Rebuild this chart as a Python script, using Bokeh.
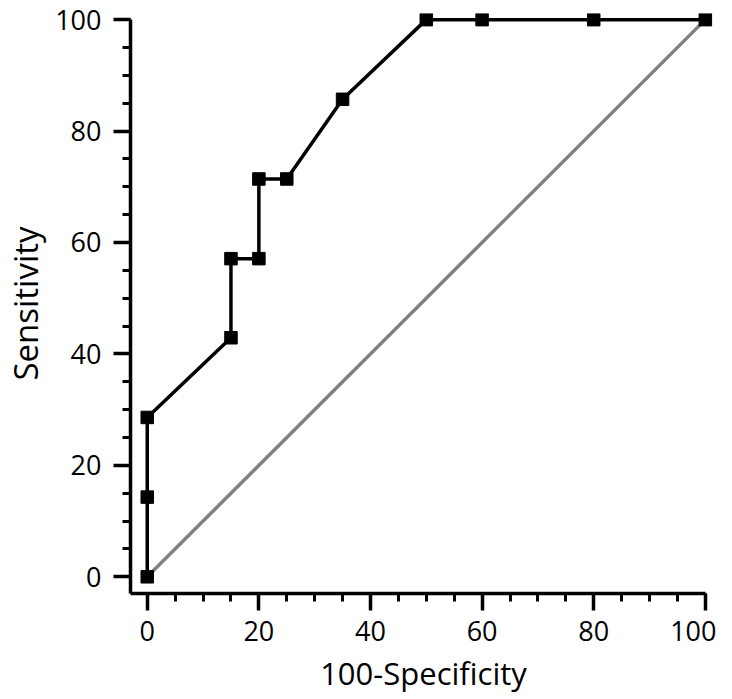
from bokeh.plotting import figure
from bokeh.models import Range1d, SingleIntervalTicker
from bokeh.embed import file_html
from bokeh.resources import INLINE

# ROC curve data (100-Specificity, Sensitivity)
fpr = [0, 0, 0, 15, 15, 20, 20, 25, 35, 50, 60, 80, 100]
tpr = [0, 14.3, 28.6, 42.9, 57.1, 57.1, 71.4, 71.4, 85.7, 100, 100, 100, 100]
ref_x = [0, 100]
ref_y = [0, 100]
x_title = "100-Specificity"
y_title = "Sensitivity"

FONT = "Open Sans"

p = figure(
    output_backend="svg", toolbar_location=None,
    frame_width=586, frame_height=580,
    x_range=Range1d(-3, 102), y_range=Range1d(-3, 101.1),
    min_border_left=123, min_border_right=0, min_border_top=13, min_border_bottom=8,
)
p.outline_line_color = None
p.grid.visible = False
p.background_fill_color = "white"
p.border_fill_color = "white"

p.line(ref_x, ref_y, line_color="#808080", line_width=3.5)
p.line(fpr, tpr, line_color="black", line_width=3.5)
p.scatter(fpr, tpr, marker="square", size=12.5, fill_color="black", line_color="black")

for ax in (p.xaxis[0], p.yaxis[0]):
    ax.ticker = SingleIntervalTicker(interval=20, num_minor_ticks=4)
    ax.bounds = (-3, 100)
    ax.axis_line_width = 3.5
    ax.axis_line_color = "black"
    ax.major_tick_line_width = 3.5
    ax.minor_tick_line_width = 3
    ax.major_tick_out = 17
    ax.major_tick_in = 0
    ax.minor_tick_out = 8
    ax.minor_tick_in = 0
    ax.major_label_text_font = FONT
    ax.major_label_text_font_size = "27px"
    ax.major_label_text_color = "black"
    ax.axis_label_text_font = FONT
    ax.axis_label_text_font_style = "normal"
    ax.axis_label_text_color = "black"

p.xaxis.axis_label = x_title
p.yaxis.axis_label = y_title
p.xaxis.axis_label_text_font_size = "31px"
p.yaxis.axis_label_text_font_size = "33px"
p.xaxis.major_label_standoff = 10
p.yaxis.major_label_standoff = 12
p.xaxis.axis_label_standoff = 8
p.yaxis.axis_label_standoff = 4

open("out.html", "w").write(file_html(p, INLINE))
